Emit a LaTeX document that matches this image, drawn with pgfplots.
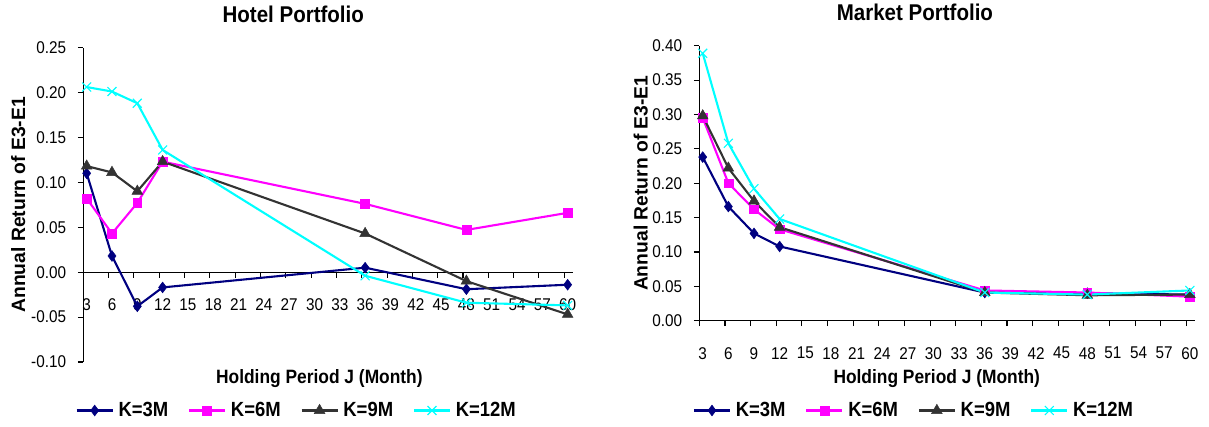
\documentclass[border=0pt]{standalone}
\usepackage{fontspec}
\setmainfont{Liberation Sans}[FakeStretch=0.9]
\newfontfamily\ylabfont{Liberation Sans}
\usepackage{pgfplots}
\pgfplotsset{compat=1.18}
\definecolor{kthree}{RGB}{0,0,128}
\definecolor{ksix}{RGB}{255,0,255}
\definecolor{knine}{RGB}{51,51,51}
\definecolor{ktwelve}{RGB}{0,255,255}
\pgfplotsset{
  common/.style={
    scale only axis,
    xmin=2.6, xmax=60.6,
    axis y line=left,
    axis line style={-, line width=1.1pt, black},
    clip=false,
    xtick={2.6,5.6,8.6,11.6,14.6,17.6,20.6,23.6,26.6,29.6,32.6,35.6,38.6,41.6,44.6,47.6,50.6,53.6,56.6,59.6},
    xticklabels={3,6,9,12,15,18,21,24,27,30,33,36,39,42,45,48,51,54,57,60},
    tick align=outside,
    xtick align=outside,
    major tick length=5.5pt,
    tick style={line width=1.1pt, black},
    hide obscured x ticks=false,
    hide obscured y ticks=false,
    tick label style={font=\fontsize{17}{20}\selectfont},
    xticklabel style={anchor=center, inner sep=0pt, yshift=-27pt, xshift=3.4pt},
    yticklabel style={anchor=east, inner sep=0pt, xshift=-11.5pt, /pgf/number format/.cd, fixed, fixed zerofill, precision=2, assume math mode=true},
    title style={font=\bfseries\fontsize{22.8}{26}\selectfont, anchor=base, inner sep=0pt, yshift=19pt},
    xlabel style={font=\bfseries\fontsize{19.3}{22}\selectfont, anchor=center, inner sep=0pt},
    ylabel style={font=\ylabfont\bfseries\fontsize{19.3}{22}\selectfont, anchor=center, inner sep=0pt},
    xlabel={Holding Period J (Month)},
    ylabel={Annual Return of E3-E1},
    legend columns=4,
    legend cell align=left,
    legend image code/.code={\draw[mark repeat=2,mark phase=2,#1] plot coordinates {(0pt,0pt) (18pt,0pt) (36pt,0pt)};},
    every axis plot/.append style={line width=2.1pt},
  },
  s3/.style={color=kthree, mark=diamond*, mark size=5.4pt, mark options={solid, line width=0.5pt, fill=kthree}},
  s6/.style={color=ksix, mark=square*, mark size=4.4pt, mark options={solid, line width=0.5pt, fill=ksix}},
  s9/.style={color=knine, mark=triangle*, mark size=6.2pt, mark options={solid, line width=0.5pt, fill=knine}},
  s12/.style={color=ktwelve, mark=x, mark size=6.3pt, mark options={solid, line width=1.1pt}},
}
\begin{document}
\begin{tikzpicture}
\useasboundingbox (0,0) rectangle (1209pt,-426pt);
% Hotel portfolio
\begin{axis}[axis x line=middle, common,
  at={(83.3pt,-362pt)}, anchor=south west,
  width=489.4pt, height=314.5pt,
  ymin=-0.10, ymax=0.25,
  ytick={-0.10,-0.05,0,0.05,0.10,0.15,0.20,0.25},
  title={Hotel Portfolio},
  title style={at={(axis description cs:0.429,1)}},
  xlabel style={at={(axis description cs:0.4824,0)}, yshift=-16.3pt},
  ylabel style={at={(axis description cs:-0.1328,0.5)}},
  legend style={at={(axis description cs:0.439,-0.1542)}, anchor=center, draw=none, fill=none,
    font=\bfseries\fontsize{20.5}{24}\selectfont, nodes={inner xsep=4.8pt, inner ysep=1pt},
    /tikz/every even column/.append style={column sep=15pt}},
]
\addplot[s3] coordinates {(3,0.110) (6,0.018) (9,-0.038) (12,-0.017) (36,0.005) (48,-0.019) (60,-0.014)};
\addlegendentry{K=3M}
\addplot[s6] coordinates {(3,0.082) (6,0.043) (9,0.077) (12,0.123) (36,0.076) (48,0.047) (60,0.066)};
\addlegendentry{K=6M}
\addplot[s9] coordinates {(3,0.118) (6,0.111) (9,0.090) (12,0.123) (36,0.043) (48,-0.010) (60,-0.047)};
\addlegendentry{K=9M}
\addplot[s12] coordinates {(3,0.206) (6,0.201) (9,0.188) (12,0.136) (36,-0.004) (48,-0.034) (60,-0.037)};
\addlegendentry{K=12M}
\end{axis}
% Market portfolio
\begin{axis}[axis x line=bottom, common,
  at={(699.3pt,-320.7pt)}, anchor=south west,
  width=495.7pt, height=275pt,
  ymin=0, ymax=0.40,
  ytick={0,0.05,0.10,0.15,0.20,0.25,0.30,0.35,0.40},
  title={Market Portfolio},
  title style={at={(axis description cs:0.435,1)}},
  xlabel style={at={(axis description cs:0.479,0)}, yshift=-57.6pt},
  ylabel style={at={(axis description cs:-0.1182,0.5)}},
  legend style={at={(axis description cs:0.436,-0.3265)}, anchor=center, draw=none, fill=none,
    font=\bfseries\fontsize{20.5}{24}\selectfont, nodes={inner xsep=4.8pt, inner ysep=1pt},
    /tikz/every even column/.append style={column sep=15pt}},
]
\addplot[s3] coordinates {(3,0.238) (6,0.166) (9,0.127) (12,0.108) (36,0.041) (48,0.040) (60,0.038)};
\addlegendentry{K=3M}
\addplot[s6] coordinates {(3,0.295) (6,0.200) (9,0.162) (12,0.133) (36,0.044) (48,0.041) (60,0.035)};
\addlegendentry{K=6M}
\addplot[s9] coordinates {(3,0.298) (6,0.222) (9,0.174) (12,0.136) (36,0.041) (48,0.037) (60,0.038)};
\addlegendentry{K=9M}
\addplot[s12] coordinates {(3,0.389) (6,0.258) (9,0.192) (12,0.148) (36,0.041) (48,0.038) (60,0.044)};
\addlegendentry{K=12M}
\end{axis}
\end{tikzpicture}
\end{document}
